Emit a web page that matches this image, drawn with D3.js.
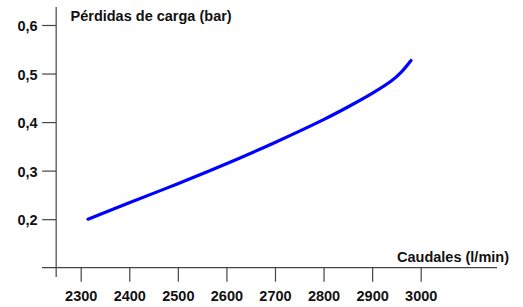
<!DOCTYPE html>
<html><head><meta charset="utf-8">
<script src="https://cdn.jsdelivr.net/npm/d3@7"></script>
<style>
html,body{margin:0;padding:0;background:#fff;}
text{font-family:Arial,"Liberation Sans",sans-serif;font-weight:bold;font-size:14.5px;fill:#111;}
</style></head>
<body><svg id="c" width="523" height="307"></svg>
<script>
const flows = [2315, 2400, 2500, 2600, 2700, 2800, 2850, 2900, 2940, 2960, 2980];
const losses = [0.200, 0.234, 0.273, 0.314, 0.358, 0.405, 0.431, 0.459, 0.485, 0.503, 0.527];
const xTicks = [2300, 2400, 2500, 2600, 2700, 2800, 2900, 3000];
const yTicks = [0.2, 0.3, 0.4, 0.5, 0.6];
const yTitle = "Pérdidas de carga (bar)";
const xTitle = "Caudales (l/min)";

const svg = d3.select("#c");
const x = d3.scaleLinear().domain([2300, 3000]).range([80.7, 420.7]);
const y = d3.scaleLinear().domain([0.1, 0.6]).range([267.7, 25]);
const axisColor = "#444";
const fontCss = "Arial, 'Liberation Sans', sans-serif";

const xAxisY = y(0.1);
svg.append("line").attr("x1", 42).attr("x2", 497).attr("y1", xAxisY).attr("y2", xAxisY)
  .attr("stroke", axisColor).attr("stroke-width", 1.2);
const yAxisX = x(2249.5);
svg.append("line").attr("x1", yAxisX).attr("x2", yAxisX).attr("y1", 7).attr("y2", 277)
  .attr("stroke", axisColor).attr("stroke-width", 1.2);

const xa = d3.axisBottom(x).tickValues(xTicks).tickSize(14).tickFormat(d3.format("d"));
const gx = svg.append("g").attr("transform", `translate(0,${xAxisY})`).call(xa);
gx.select(".domain").remove();
gx.selectAll(".tick line").attr("stroke", axisColor).attr("stroke-width", 1.2);
gx.selectAll(".tick text").attr("y", 33.3).attr("dy", null).attr("fill", "#111")
  .style("font-size", "14.5px").style("font-family", fontCss).style("font-weight", "bold");

const ya = d3.axisLeft(y).tickValues(yTicks).tickSize(14).tickFormat(d => d3.format(".1f")(d).replace(".", ","));
const gy = svg.append("g").attr("transform", `translate(${yAxisX},0)`).call(ya);
gy.select(".domain").remove();
gy.selectAll(".tick line").attr("stroke", axisColor).attr("stroke-width", 1.2);
gy.selectAll(".tick text").attr("x", -18.5).attr("dy", "0.38em").attr("fill", "#111")
  .style("font-size", "14.5px").style("font-family", fontCss).style("font-weight", "bold");

svg.append("text").attr("x", 70.5).attr("y", 20.7).text(yTitle);
svg.append("text").attr("x", 509).attr("y", 261.5).attr("text-anchor", "end").text(xTitle);

const data = flows.map((f, i) => ({f, v: losses[i]}));
const line = d3.line().x(d => x(d.f)).y(d => y(d.v)).curve(d3.curveCatmullRom);
svg.append("path").datum(data).attr("d", line).attr("fill", "none")
  .attr("stroke", "#0000ff").attr("stroke-width", 3.2).attr("stroke-linecap", "round");
</script></body></html>
